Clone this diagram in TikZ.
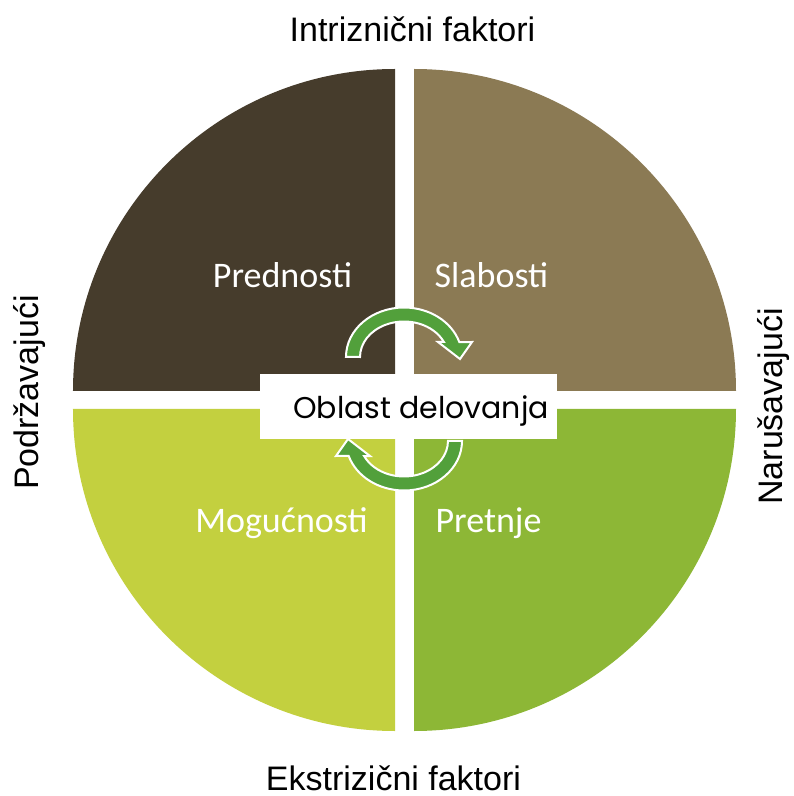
\documentclass[tikz,border=0pt]{standalone}
\usepackage{fontspec}
\setmainfont{Liberation Sans}
\newfontfamily\carlito{Carlito}
\newfontfamily\poppins{Poppins}
\definecolor{snage}{HTML}{463C2C}
\definecolor{slabosti}{HTML}{8B7A54}
\definecolor{prilike}{HTML}{C3D03F}
\definecolor{pretnje}{HTML}{8DB736}
\definecolor{strelica}{HTML}{52A03B}

\begin{document}
\begin{tikzpicture}[x=0.75pt, y=0.75pt,
    quad/.style={text=white, font=\carlito\fontsize{27}{32}\selectfont, anchor=base},
    side/.style={font=\fontsize{25.5}{30}\selectfont, anchor=base},
    arrowfill/.style={fill=strelica, draw=white, line width=1.5pt, line join=miter}]
  \useasboundingbox (-404.5,-396) rectangle (388.5,400);

  \fill[snage] (-9.5,9) -- (-331.5,9) arc[start angle=180, end angle=90, radius=322] -- cycle;
  \fill[slabosti] (9.5,9) -- (9.5,331) arc[start angle=90, end angle=0, radius=322] -- cycle;
  \fill[prilike] (-9.5,-9) -- (-9.5,-331) arc[start angle=270, end angle=180, radius=322] -- cycle;
  \fill[pretnje] (9.5,-9) -- (331.5,-9) arc[start angle=0, end angle=-90, radius=322] -- cycle;

  \node[quad] (prednosti) at (-122,112) {Prednosti};
  \node[quad] (slab) at (87,112) {Slabosti};
  \node[quad] (mogucnosti) at (-123,-132) {Mogućnosti};
  \node[quad] (pretnja) at (84,-132) {Pretnje};

  \begin{scope}[shift={(-0.5,43)}]
    \filldraw[arrowfill] (-44,0) -- (-58,0)
      arc[start angle=180, end angle=17.6, x radius=58, y radius=49.5]
      -- (68,15) -- (56,-2) -- (34,15) -- (39.9,15)
      arc[start angle=25, end angle=180, x radius=44, y radius=35.5] -- cycle;
  \end{scope}
  \begin{scope}[shift={(-0.5,-41)}, rotate=180]
    \filldraw[arrowfill] (-44,0) -- (-58,0)
      arc[start angle=180, end angle=17.6, x radius=58, y radius=49.5]
      -- (68,15) -- (56,-2) -- (34,15) -- (39.9,15)
      arc[start angle=25, end angle=180, x radius=44, y radius=35.5] -- cycle;
  \end{scope}

  \node[fill=white, inner sep=0pt, minimum width=222.75pt, minimum height=48.75pt] (polje) at (4,-6.5) {};
  \node[font=\poppins\fontsize{22.5}{27}\selectfont, anchor=base] (oblast) at (16.5,-19) {Oblast delovanja};

  \node[side] (intrinzicni) at (8,358) {Intrizni\v{c}ni faktori};
  \node[side] (ekstrinzicni) at (-11,-390) {Ekstrizični faktori};
  \node[side, rotate=90] (podrzavajuci) at (-366,7.5) {Podržavajući};
  \node[side, rotate=90] (narusavajuci) at (378,-6.5) {Narušavajući};
\end{tikzpicture}
\end{document}
